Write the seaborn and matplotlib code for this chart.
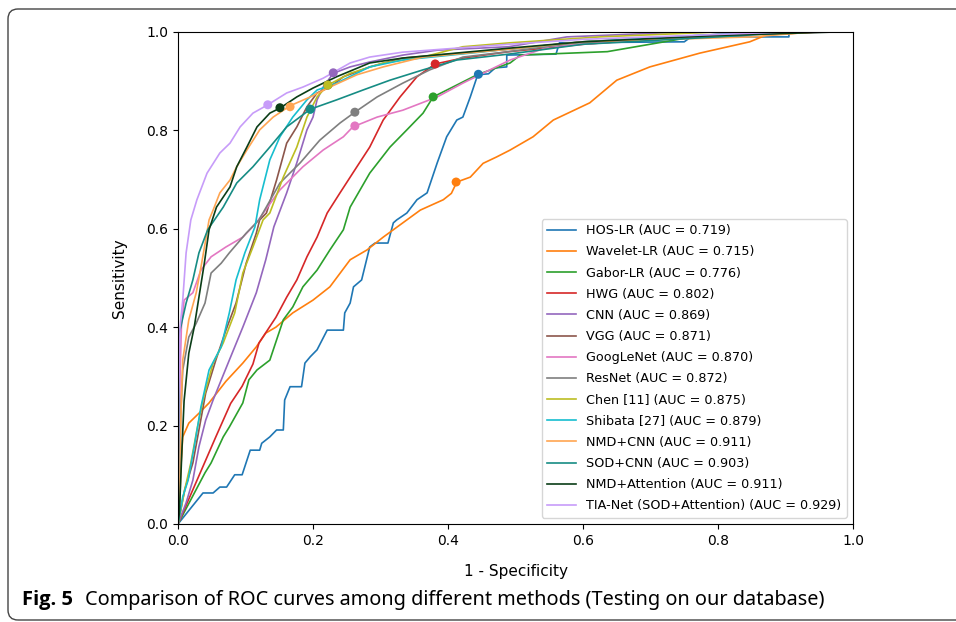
import matplotlib
matplotlib.use('Agg')
import matplotlib.pyplot as plt
from matplotlib.patches import FancyBboxPatch
import seaborn as sns
import pandas as pd

# ROC points (1 - specificity, sensitivity)
hos_fpr = [0, 0.037, 0.052, 0.062, 0.072, 0.084, 0.095, 0.107, 0.121, 0.124, 0.136, 0.146, 0.156, 0.158, 0.166, 0.183, 0.188, 0.196, 0.206, 0.221, 0.245, 0.247, 0.255, 0.26, 0.272, 0.284, 0.292, 0.311, 0.319, 0.324, 0.339, 0.354, 0.369, 0.384, 0.398, 0.413, 0.422, 0.433, 0.444, 0.46, 0.47, 0.487, 0.487, 0.56, 0.565, 0.75, 0.76, 0.905, 0.905, 1.0]
hos_tpr = [0, 0.063, 0.063, 0.075, 0.075, 0.10, 0.10, 0.15, 0.15, 0.164, 0.177, 0.191, 0.191, 0.252, 0.279, 0.279, 0.327, 0.34, 0.354, 0.394, 0.394, 0.429, 0.449, 0.482, 0.496, 0.563, 0.571, 0.571, 0.612, 0.618, 0.632, 0.659, 0.673, 0.734, 0.787, 0.821, 0.827, 0.868, 0.913, 0.915, 0.927, 0.929, 0.953, 0.955, 0.978, 0.98, 0.99, 0.99, 1.0, 1.0]

wav_fpr = [0, 0.003, 0.004, 0.007, 0.016, 0.031, 0.046, 0.071, 0.096, 0.116, 0.13, 0.145, 0.170, 0.2, 0.225, 0.255, 0.28, 0.304, 0.339, 0.359, 0.393, 0.405, 0.413, 0.433, 0.452, 0.472, 0.492, 0.526, 0.556, 0.61, 0.65, 0.699, 0.773, 0.847, 0.872, 0.947, 1.0]
wav_tpr = [0, 0.06, 0.11, 0.177, 0.205, 0.225, 0.246, 0.29, 0.327, 0.36, 0.388, 0.40, 0.429, 0.455, 0.482, 0.537, 0.557, 0.583, 0.618, 0.638, 0.659, 0.672, 0.695, 0.705, 0.733, 0.746, 0.760, 0.787, 0.821, 0.856, 0.902, 0.929, 0.957, 0.98, 0.994, 1.0, 1.0]

gab_fpr = [0, 0.04, 0.049, 0.067, 0.076, 0.096, 0.105, 0.117, 0.136, 0.156, 0.170, 0.185, 0.206, 0.225, 0.245, 0.255, 0.284, 0.314, 0.339, 0.363, 0.378, 0.407, 0.443, 0.492, 0.507, 0.636, 0.754, 0.784, 0.9, 0.95, 1.0]
gab_tpr = [0, 0.104, 0.124, 0.177, 0.197, 0.246, 0.293, 0.313, 0.333, 0.415, 0.441, 0.482, 0.516, 0.557, 0.598, 0.644, 0.713, 0.766, 0.801, 0.835, 0.868, 0.888, 0.913, 0.937, 0.953, 0.96, 0.988, 0.994, 0.998, 1.0, 1.0]

hwg_fpr = [0, 0.056, 0.078, 0.095, 0.111, 0.12, 0.145, 0.161, 0.176, 0.191, 0.206, 0.221, 0.24, 0.265, 0.284, 0.304, 0.329, 0.354, 0.381, 0.422, 0.49, 0.6, 0.75, 0.93, 1.0]
hwg_tpr = [0, 0.177, 0.245, 0.28, 0.325, 0.368, 0.42, 0.461, 0.496, 0.543, 0.583, 0.632, 0.673, 0.726, 0.766, 0.821, 0.868, 0.909, 0.935, 0.947, 0.96, 0.975, 0.99, 1.0, 1.0]

cnn_fpr = [0, 0.012, 0.022, 0.031, 0.041, 0.052, 0.076, 0.096, 0.116, 0.13, 0.142, 0.161, 0.176, 0.191, 0.2, 0.206, 0.215, 0.23, 0.255, 0.284, 0.333, 0.384, 0.49, 0.576, 0.75, 1.0]
cnn_tpr = [0, 0.043, 0.089, 0.157, 0.211, 0.252, 0.333, 0.4, 0.47, 0.537, 0.604, 0.673, 0.734, 0.801, 0.827, 0.862, 0.888, 0.916, 0.929, 0.939, 0.953, 0.963, 0.97, 0.99, 1.0, 1.0]

vgg_fpr = [0, 0.01, 0.022, 0.031, 0.041, 0.056, 0.071, 0.086, 0.101, 0.116, 0.121, 0.131, 0.146, 0.161, 0.176, 0.191, 0.206, 0.225, 0.245, 0.284, 0.333, 0.49, 0.6, 0.8, 0.9, 1.0]
vgg_tpr = [0, 0.07, 0.124, 0.191, 0.266, 0.333, 0.394, 0.449, 0.53, 0.591, 0.618, 0.632, 0.699, 0.774, 0.807, 0.848, 0.876, 0.888, 0.909, 0.929, 0.947, 0.965, 0.98, 0.995, 1.0, 1.0]

goo_fpr = [0, 0.002, 0.003, 0.005, 0.009, 0.022, 0.034, 0.049, 0.071, 0.096, 0.116, 0.151, 0.185, 0.215, 0.245, 0.259, 0.295, 0.333, 0.384, 0.422, 0.462, 0.492, 0.55, 0.7, 0.85, 0.96, 1.0]
goo_tpr = [0, 0.15, 0.3, 0.4, 0.455, 0.47, 0.516, 0.543, 0.563, 0.583, 0.612, 0.679, 0.726, 0.760, 0.787, 0.807, 0.827, 0.841, 0.868, 0.896, 0.923, 0.943, 0.97, 0.985, 0.995, 1.0, 1.0]

res_fpr = [0, 0.002, 0.004, 0.007, 0.016, 0.027, 0.04, 0.049, 0.064, 0.076, 0.101, 0.12, 0.151, 0.181, 0.21, 0.24, 0.262, 0.295, 0.333, 0.373, 0.422, 0.49, 0.6, 0.8, 0.9, 1.0]
res_tpr = [0, 0.1, 0.22, 0.313, 0.38, 0.408, 0.449, 0.51, 0.53, 0.551, 0.591, 0.618, 0.693, 0.734, 0.780, 0.815, 0.837, 0.868, 0.896, 0.923, 0.949, 0.96, 0.98, 0.993, 1.0, 1.0]

chen_fpr = [0, 0.01, 0.019, 0.028, 0.037, 0.052, 0.067, 0.084, 0.096, 0.111, 0.126, 0.136, 0.156, 0.176, 0.191, 0.206, 0.222, 0.255, 0.304, 0.363, 0.422, 0.492, 0.625, 0.8, 1.0]
chen_tpr = [0, 0.07, 0.124, 0.191, 0.252, 0.327, 0.368, 0.429, 0.51, 0.563, 0.618, 0.632, 0.705, 0.766, 0.827, 0.868, 0.892, 0.916, 0.937, 0.949, 0.97, 0.978, 0.99, 1.0, 1.0]

shi_fpr = [0, 0.007, 0.015, 0.024, 0.034, 0.046, 0.064, 0.076, 0.086, 0.099, 0.114, 0.121, 0.136, 0.151, 0.17, 0.191, 0.206, 0.235, 0.284, 0.333, 0.49, 0.6, 0.8, 0.88, 1.0]
shi_tpr = [0, 0.055, 0.089, 0.157, 0.238, 0.313, 0.36, 0.429, 0.496, 0.551, 0.604, 0.659, 0.74, 0.787, 0.827, 0.862, 0.882, 0.896, 0.929, 0.943, 0.965, 0.98, 0.995, 1.0, 1.0]

nmdc_fpr = [0, 0.003, 0.005, 0.007, 0.016, 0.027, 0.034, 0.041, 0.046, 0.052, 0.062, 0.077, 0.087, 0.102, 0.121, 0.141, 0.166, 0.196, 0.225, 0.265, 0.304, 0.363, 0.49, 0.6, 0.85, 0.94, 1.0]
nmdc_tpr = [0, 0.15, 0.25, 0.333, 0.415, 0.47, 0.522, 0.577, 0.618, 0.638, 0.673, 0.699, 0.726, 0.76, 0.801, 0.827, 0.85, 0.868, 0.888, 0.913, 0.929, 0.949, 0.965, 0.98, 0.99, 1.0, 1.0]

sodc_fpr = [0, 0.001, 0.002, 0.012, 0.022, 0.031, 0.044, 0.067, 0.087, 0.111, 0.136, 0.161, 0.196, 0.235, 0.274, 0.314, 0.363, 0.413, 0.49, 0.6, 0.8, 0.92, 1.0]
sodc_tpr = [0, 0.2, 0.388, 0.449, 0.496, 0.551, 0.598, 0.644, 0.693, 0.726, 0.766, 0.807, 0.843, 0.862, 0.882, 0.902, 0.923, 0.943, 0.955, 0.975, 0.99, 1.0, 1.0]

nmda_fpr = [0, 0.002, 0.004, 0.006, 0.009, 0.016, 0.024, 0.031, 0.039, 0.046, 0.057, 0.077, 0.087, 0.102, 0.117, 0.136, 0.152, 0.176, 0.2, 0.235, 0.284, 0.333, 0.49, 0.6, 0.8, 0.975, 1.0]
nmda_tpr = [0, 0.022, 0.089, 0.157, 0.25, 0.347, 0.4, 0.461, 0.53, 0.598, 0.644, 0.685, 0.726, 0.766, 0.807, 0.835, 0.846, 0.868, 0.886, 0.909, 0.937, 0.947, 0.967, 0.98, 0.993, 1.0, 1.0]

tia_fpr = [0, 0.001, 0.003, 0.007, 0.012, 0.019, 0.028, 0.043, 0.062, 0.077, 0.092, 0.111, 0.133, 0.161, 0.185, 0.215, 0.255, 0.284, 0.333, 0.49, 0.6, 0.8, 0.9, 1.0]
tia_tpr = [0, 0.25, 0.4, 0.455, 0.551, 0.618, 0.659, 0.713, 0.754, 0.774, 0.807, 0.835, 0.852, 0.876, 0.888, 0.906, 0.937, 0.949, 0.959, 0.975, 0.985, 0.995, 1.0, 1.0]

methods = ['HOS-LR', 'Wavelet-LR', 'Gabor-LR', 'HWG', 'CNN', 'VGG', 'GoogLeNet', 'ResNet',
           'Chen [11]', 'Shibata [27]', 'NMD+CNN', 'SOD+CNN', 'NMD+Attention', 'TIA-Net (SOD+Attention)']
auc = [0.719, 0.715, 0.776, 0.802, 0.869, 0.871, 0.870, 0.872, 0.875, 0.879, 0.911, 0.903, 0.911, 0.929]
curves = [(hos_fpr, hos_tpr), (wav_fpr, wav_tpr), (gab_fpr, gab_tpr), (hwg_fpr, hwg_tpr),
          (cnn_fpr, cnn_tpr), (vgg_fpr, vgg_tpr), (goo_fpr, goo_tpr), (res_fpr, res_tpr),
          (chen_fpr, chen_tpr), (shi_fpr, shi_tpr), (nmdc_fpr, nmdc_tpr), (sodc_fpr, sodc_tpr),
          (nmda_fpr, nmda_tpr), (tia_fpr, tia_tpr)]
# operating point marked on every curve
dot_fpr = [0.445, 0.412, 0.378, 0.381, 0.23, 0.222, 0.262, 0.262, 0.222, 0.196, 0.166, 0.196, 0.151, 0.133]
dot_tpr = [0.914, 0.695, 0.868, 0.935, 0.917, 0.892, 0.809, 0.837, 0.892, 0.843, 0.848, 0.843, 0.846, 0.852]

colors = ['#1f77b4', '#ff7f0e', '#2ca02c', '#d62728', '#9467bd', '#8c564b', '#e377c2', '#7f7f7f',
          '#bcbd22', '#17becf', '#ffa552', '#168c84', '#0b3d17', '#c79cf9']

labels = [f'{m} (AUC = {a:.3f})' for m, a in zip(methods, auc)]
palette = dict(zip(labels, colors))

rows = []
for lab, (xs, ys) in zip(labels, curves):
    for x, y in zip(xs, ys):
        rows.append({'fpr': x, 'tpr': y, 'label': lab})
df = pd.DataFrame(rows)
dots = pd.DataFrame({'fpr': dot_fpr, 'tpr': dot_tpr, 'label': labels})

fig = plt.figure(figsize=(9.56, 6.22), dpi=100)
ax = fig.add_axes([0.1862, 0.1576, 0.7061, 0.791])

sns.lineplot(data=df, x='fpr', y='tpr', hue='label', hue_order=labels, palette=palette,
             sort=False, estimator=None, linewidth=1.2, ax=ax)
sns.scatterplot(data=dots, x='fpr', y='tpr', hue='label', hue_order=labels, palette=palette,
                s=42, linewidth=0, legend=False, zorder=5, ax=ax)

ax.set_xlim(0, 1)
ax.set_ylim(0, 1)
ax.set_xlabel('1 - Specificity', fontsize=11, labelpad=11.5)
ax.set_ylabel('Sensitivity', fontsize=11, labelpad=14)
ax.tick_params(labelsize=10)
sns.move_legend(ax, 'lower right', title=None, fontsize=9.2, frameon=True,
                labelspacing=0.64, handlelength=2.3)

# caption + rounded frame of the journal figure
fig.text(22 / 956, 1 - 600 / 622, 'Fig. 5', fontsize=14.5, fontweight='bold',
         family=['Open Sans', 'DejaVu Sans'], va='center')
fig.text(85 / 956, 1 - 600 / 622, 'Comparison of ROC curves among different methods (Testing on our database)',
         fontsize=14.3, family=['Noto Sans', 'DejaVu Sans'], va='center')
frame = FancyBboxPatch((8, 2), 1000, 611, boxstyle='round,pad=0,rounding_size=10',
                       transform=None, fill=False, edgecolor='#444444', linewidth=1.0, clip_on=False)
fig.patches.append(frame)

fig.savefig('out.png', dpi=100)
